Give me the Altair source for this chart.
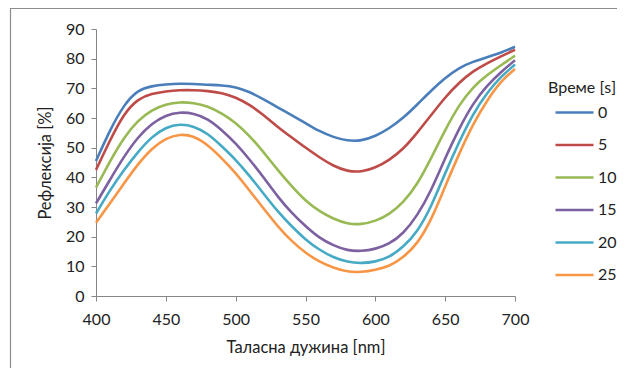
import altair as alt
import pandas as pd

wavelength = [400, 410, 420, 430, 440, 450, 460, 470, 480, 490, 500, 510, 520, 530, 540, 550,
              560, 570, 580, 590, 600, 610, 620, 630, 640, 650, 660, 670, 680, 690, 700]

times = ["0", "5", "10", "15", "20", "25"]

r0 = [45.5, 56, 64.5, 69.5, 70.8, 71.3, 71.6, 71.5, 71.2, 71, 70.5, 68.8, 66.3, 63.6, 61, 58.3,
      55.5, 53.5, 52.3, 52.3, 53.8, 56.5, 60, 64.5, 69.3, 73.5, 77, 79, 80.5, 82, 84]
r5 = [42.5, 52.5, 61.5, 66.5, 68.2, 69, 69.4, 69.4, 69.1, 68.5, 67, 64.5, 61, 57, 53.5, 50,
      46.7, 43.8, 42, 41.8, 43.2, 45.8, 49.5, 55, 61, 67, 72, 75.8, 78.5, 80.8, 83]
r10 = [36.5, 45.5, 53.5, 59.2, 62.8, 64.7, 65.4, 65.1, 64, 61.6, 58.5, 54, 48.5, 42.5, 37, 32,
       28.5, 26, 24.3, 24.1, 25.2, 27.5, 31.5, 37.5, 46.5, 56, 64.5, 70.5, 74.5, 77.8, 81]
r15 = [31.2, 39.2, 47, 53.6, 58.2, 61, 62, 61.6, 59.8, 56, 51.5, 46, 40, 33.5, 28, 23.5,
       19.5, 17, 15.3, 15.1, 15.8, 17.5, 21, 27, 35.5, 46.5, 56.5, 65, 71, 75.5, 79.5]
r20 = [27.8, 35.7, 42.5, 48.6, 53.7, 56.9, 58, 57.3, 54.8, 50.5, 46, 40.5, 34.5, 28.5, 23.5, 19,
       15.5, 13, 11.4, 11, 11.5, 13, 16.5, 21.5, 30, 41.5, 52, 61.5, 68.5, 74, 78]
r25 = [24.7, 31.2, 37.9, 44.5, 49.8, 53.2, 54.6, 54, 51, 46.5, 41.5, 35.5, 29.5, 23.5, 18.5, 14.5,
       11.5, 9.5, 8.1, 8, 8.8, 10, 13, 17.5, 25.5, 37, 48, 58, 66, 72.5, 76.5]

colors = ["#4A7EBB", "#BE4B48", "#98B954", "#7D60A0", "#46AAC5", "#F79646"]

rows = []
for t, series in zip(times, [r0, r5, r10, r15, r20, r25]):
    for w, v in zip(wavelength, series):
        rows.append({"w": w, "r": v, "t": t})
df = pd.DataFrame(rows)

FONT = "Lato"
W, H = 419, 267

frame = alt.Chart(pd.DataFrame({"a": [0]})).mark_rect(
    fill=None, stroke="#8c8c8c", strokeWidth=1.2
).encode(
    x=alt.value(-85.5), x2=alt.value(W + 200),
    y=alt.value(-20.5), y2=alt.value(H + 200)
)

lines = alt.Chart(df).mark_line(interpolate="basis", strokeWidth=2.6).encode(
    x=alt.X("w:Q", scale=alt.Scale(domain=[400, 700], nice=False),
            axis=alt.Axis(values=[400, 450, 500, 550, 600, 650, 700],
                          title="Таласна дужина [nm]", grid=False, labelFlush=False,
                          labelPadding=10, titlePadding=12)),
    y=alt.Y("r:Q", scale=alt.Scale(domain=[0, 90], nice=False),
            axis=alt.Axis(values=list(range(0, 91, 10)), title="Рефлексија [%]", grid=False,
                          labelPadding=7, titlePadding=12)),
    color=alt.Color("t:N", sort=times, scale=alt.Scale(domain=times, range=colors),
                    legend=alt.Legend(title="Време [s]", orient="none", legendX=452, legendY=51,
                                      symbolType="stroke", symbolSize=1444, symbolStrokeWidth=2.6,
                                      symbolOffset=6, labelOffset=3, rowPadding=3.5,
                                      titlePadding=-4)),
    detail="t:N",
)

chart = alt.layer(frame, lines).properties(
    width=W, height=H,
    padding={"left": 88, "top": 21, "right": 102, "bottom": 72},
    autosize=alt.AutoSizeParams(type="none"),
).configure_view(stroke=None).configure_axis(
    domainColor="#868686", tickColor="#868686", tickSize=5,
    labelFont=FONT, titleFont=FONT, labelFontSize=16, titleFontSize=16.5,
    labelColor="#222222", titleColor="#222222", titleFontWeight="normal",
).configure_legend(
    labelFont=FONT, titleFont=FONT, labelFontSize=16, titleFontSize=16,
    titleFontWeight="normal", labelColor="#222222", titleColor="#222222",
)

chart.save("out.html", embed_options={"renderer": "svg", "actions": False})
